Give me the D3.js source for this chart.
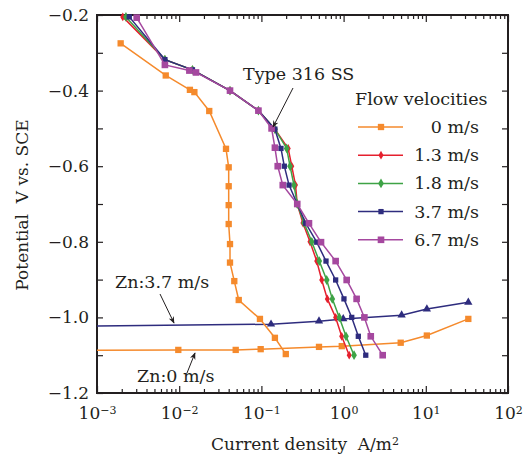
<!DOCTYPE html>
<html>
<head>
<meta charset="utf-8">
<script src="https://cdn.jsdelivr.net/npm/d3@7"></script>
<style>
  body { margin: 0; background: #fff; }
  text { font-family: "DejaVu Serif", serif; fill: #231f20; }
</style>
</head>
<body>
<div id="chart"></div>
<script>
// data: [current density A/m2, potential V]
var ss00 = [[0.00194, -0.275], [0.00686, -0.36], [0.0135, -0.398], [0.0153, -0.404], [0.0232, -0.454],
  [0.0371, -0.554], [0.040, -0.603], [0.040, -0.653], [0.040, -0.703], [0.040, -0.753], [0.0415, -0.806],
  [0.0415, -0.855], [0.0468, -0.904], [0.053, -0.954], [0.096, -1.004], [0.146, -1.054], [0.198, -1.097]];
var ss13 = [[0.00206, -0.205], [0.0067, -0.318], [0.0145, -0.345], [0.0415, -0.40], [0.092, -0.453],
  [0.146, -0.502], [0.212, -0.553], [0.234, -0.60], [0.26, -0.65], [0.273, -0.70], [0.32, -0.75],
  [0.39, -0.80], [0.471, -0.851], [0.542, -0.901], [0.634, -0.951], [0.80, -1.0], [0.948, -1.05], [1.17, -1.1]];
var ss18 = [[0.00225, -0.205], [0.0067, -0.318], [0.0145, -0.345], [0.0415, -0.40], [0.092, -0.453],
  [0.146, -0.502], [0.203, -0.553], [0.223, -0.60], [0.249, -0.65], [0.273, -0.70], [0.33, -0.75],
  [0.41, -0.80], [0.506, -0.851], [0.623, -0.901], [0.729, -0.951], [0.887, -1.0], [1.07, -1.05], [1.34, -1.1]];
var ss37 = [[0.00247, -0.205], [0.0067, -0.318], [0.0145, -0.345], [0.0415, -0.40], [0.092, -0.453],
  [0.146, -0.502], [0.173, -0.553], [0.19, -0.60], [0.217, -0.65], [0.273, -0.70], [0.346, -0.751],
  [0.471, -0.801], [0.611, -0.851], [0.80, -0.901], [1.01, -0.951], [1.256, -1.0], [1.51, -1.05], [1.86, -1.1]];
var ss67 = [[0.00304, -0.207], [0.0067, -0.332], [0.0133, -0.347], [0.016, -0.352], [0.0415, -0.40],
  [0.092, -0.453], [0.133, -0.50], [0.146, -0.551], [0.158, -0.60], [0.182, -0.65], [0.273, -0.70],
  [0.379, -0.751], [0.531, -0.801], [0.80, -0.851], [1.09, -0.901], [1.44, -0.951], [1.79, -1.0],
  [2.14, -1.05], [2.99, -1.1]];
var zn00 = [[0.001, -1.087], [0.00975, -1.086], [0.0487, -1.086], [0.098, -1.084], [0.502, -1.078],
  [0.95, -1.076], [4.95, -1.067], [10.3, -1.048], [32.9, -1.004]];
var zn37 = [[0.001, -1.023], [0.131, -1.018], [0.502, -1.01], [0.99, -1.004], [5.08, -0.994],
  [10.3, -0.978], [32.9, -0.960]];

var legendLabels = ["0 m/s", "1.3 m/s", "1.8 m/s", "3.7 m/s", "6.7 m/s"];
var xMajor = [1e-3, 1e-2, 1e-1, 1e0, 1e1, 1e2];
var xExp = ["\u22123", "\u22122", "\u22121", "0", "1", "2"];
var yTicks = [-1.2, -1.1, -1.0, -0.9, -0.8, -0.7, -0.6, -0.5, -0.4, -0.3, -0.2];

var svgWidth = 523, svgHeight = 466;
var margin = { top: 15, right: 15, bottom: 73, left: 97 };
var width = svgWidth - margin.left - margin.right;
var height = svgHeight - margin.top - margin.bottom;

var svg = d3.select("#chart").append("svg")
  .attr("width", svgWidth)
  .attr("height", svgHeight);

var chartGroup = svg.append("g")
  .attr("transform", `translate(${margin.left}, ${margin.top})`);

var xScale = d3.scaleLog().domain([1e-3, 1e2]).range([0, width]);
var yScale = d3.scaleLinear().domain([-1.2, -0.2]).range([height, 0]);

// minor log ticks
var xMinor = [];
for (var e = -3; e < 2; e++) {
  for (var m = 2; m <= 9; m++) xMinor.push(m * Math.pow(10, e));
}

function styleAxis(g) {
  g.select(".domain").remove();
  g.selectAll("line").attr("stroke", "#231f20").attr("stroke-width", 1.2);
  g.selectAll("text").attr("font-size", "17px").attr("font-family", "DejaVu Serif").attr("fill", "#231f20");
}

// y axes
chartGroup.append("g")
  .call(d3.axisLeft(yScale).tickValues(yTicks).tickSize(-6).tickPadding(8)
    .tickFormat(d => (Math.round(d * 10) % 2 === 0 ? d3.format(".1f")(d) : "")))
  .call(styleAxis);
chartGroup.append("g")
  .attr("transform", `translate(${width}, 0)`)
  .call(d3.axisRight(yScale).tickValues(yTicks).tickSize(-6).tickFormat(""))
  .call(styleAxis);

// x axes
var xAxisG = chartGroup.append("g")
  .attr("transform", `translate(0, ${height})`)
  .call(d3.axisBottom(xScale).tickValues(xMajor).tickSize(-7).tickPadding(10).tickFormat(""))
  .call(styleAxis);
chartGroup.append("g")
  .attr("transform", `translate(0, ${height})`)
  .call(d3.axisBottom(xScale).tickValues(xMinor).tickSize(-4).tickFormat(""))
  .call(styleAxis);
chartGroup.append("g")
  .call(d3.axisTop(xScale).tickValues(xMajor).tickSize(-7).tickFormat(""))
  .call(styleAxis);
chartGroup.append("g")
  .call(d3.axisTop(xScale).tickValues(xMinor).tickSize(-4).tickFormat(""))
  .call(styleAxis);

// power-of-ten labels
xAxisG.selectAll(".tick").each(function(d, i) {
  var t = d3.select(this).append("text")
    .attr("y", 26)
    .attr("text-anchor", "middle")
    .attr("font-size", "17px");
  t.append("tspan").text("10");
  t.append("tspan").attr("dy", "-0.5em").attr("font-size", "11px").text(xExp[i]);
});

// frame
chartGroup.append("rect")
  .attr("width", width)
  .attr("height", height)
  .attr("fill", "none")
  .attr("stroke", "#231f20")
  .attr("stroke-width", 2);

var line = d3.line()
  .x(d => xScale(d[0]))
  .y(d => yScale(d[1]));

var series = [
  { data: zn37, color: "#2e2c7e", symbol: d3.symbolTriangle, size: 30 },
  { data: zn00, color: "#f58a2c", symbol: d3.symbolSquare, size: 40 },
  { data: ss00, color: "#f58a2c", symbol: d3.symbolSquare, size: 40 },
  { data: ss13, color: "#e5202e", symbol: d3.symbolDiamond, size: 22 },
  { data: ss18, color: "#3ea346", symbol: d3.symbolDiamond, size: 28 },
  { data: ss37, color: "#2e2c7e", symbol: d3.symbolSquare, size: 28 },
  { data: ss67, color: "#a5489f", symbol: d3.symbolSquare, size: 44 }
];

series.forEach(function(s) {
  chartGroup.append("path")
    .datum(s.data)
    .attr("d", line)
    .attr("fill", "none")
    .attr("stroke", s.color)
    .attr("stroke-width", 1.5);
  chartGroup.selectAll(null)
    .data(s.data.filter(d => d[0] > 1e-3))
    .enter()
    .append("path")
    .attr("d", d3.symbol().type(s.symbol).size(s.size))
    .attr("transform", d => `translate(${xScale(d[0])}, ${yScale(d[1])})`)
    .attr("fill", s.color);
});

// legend
var legendSeries = series.slice(2);
var legend = svg.append("g").attr("transform", "translate(358, 0)");
legend.append("text")
  .attr("x", -3)
  .attr("y", 105)
  .attr("font-size", "17.5px")
  .text("Flow velocities");
legendSeries.forEach(function(s, i) {
  var cy = 127 + i * 28.2;
  legend.append("line")
    .attr("x1", 0).attr("x2", 45)
    .attr("y1", cy).attr("y2", cy)
    .attr("stroke", s.color)
    .attr("stroke-width", 1.5);
  legend.append("path")
    .attr("d", d3.symbol().type(s.symbol).size(s.size))
    .attr("transform", `translate(23, ${cy})`)
    .attr("fill", s.color);
  legend.append("text")
    .attr("x", 121)
    .attr("y", cy + 6)
    .attr("text-anchor", "end")
    .attr("font-size", "17.5px")
    .text(legendLabels[i]);
});

// annotations
svg.append("defs").append("marker")
  .attr("id", "arrow")
  .attr("viewBox", "0 0 10 10")
  .attr("refX", 9).attr("refY", 5)
  .attr("markerWidth", 7).attr("markerHeight", 7)
  .attr("orient", "auto")
  .append("path")
  .attr("d", "M0,1 L10,5 L0,9 L3,5 Z")
  .attr("fill", "#231f20");

function note(label, tx, ty, x1, y1, x2, y2) {
  svg.append("text").attr("x", tx).attr("y", ty).attr("font-size", "17.5px").text(label);
  svg.append("line")
    .attr("x1", x1).attr("y1", y1).attr("x2", x2).attr("y2", y2)
    .attr("stroke", "#231f20")
    .attr("stroke-width", 1)
    .attr("marker-end", "url(#arrow)");
}
note("Type 316 SS", 243, 80, 293, 88, 273, 127);
note("Zn:3.7 m/s", 115, 288, 160, 294, 174, 323);
note("Zn:0 m/s", 137, 382, 187, 373, 195, 353);

// axis titles
svg.append("text")
  .attr("transform", "rotate(-90)")
  .attr("x", -205)
  .attr("y", 28)
  .attr("text-anchor", "middle")
  .attr("font-size", "17px")
  .text("Potential\u00a0\u00a0V vs. SCE");

var xTitle = svg.append("text")
  .attr("x", 305)
  .attr("y", 450)
  .attr("text-anchor", "middle")
  .attr("font-size", "17px");
xTitle.append("tspan").text("Current density\u00a0\u00a0A/m");
xTitle.append("tspan").attr("dy", "-0.5em").attr("font-size", "11px").text("2");
</script>
</body>
</html>
